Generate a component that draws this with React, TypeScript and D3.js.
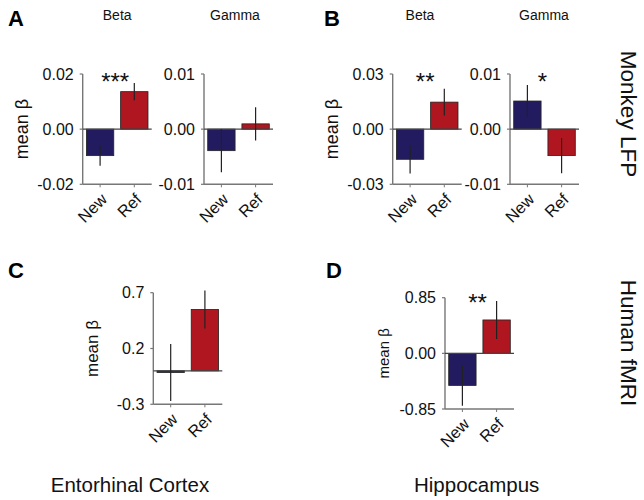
import React from 'react';
import * as d3 from 'd3';

// conditions on the x axis
const categories = ['New', 'Ref'];

// A: monkey LFP, entorhinal (beta / gamma)
const betaA = [-0.0096, 0.0136];
const betaAErr = [0.0037, 0.0031];
const gammaA = [-0.0039, 0.00096];
const gammaAErr = [0.0039, 0.003];

// B: monkey LFP, hippocampus (beta / gamma)
const betaB = [-0.0164, 0.0147];
const betaBErr = [0.0077, 0.0073];
const gammaB = [0.0051, -0.0048];
const gammaBErr = [0.0029, 0.0032];

// C / D: human fMRI
const entorhinal = [-0.015, 0.55];
const entorhinalErr = [0.255, 0.17];
const hippocampus = [-0.49, 0.51];
const hippocampusErr = [0.31, 0.29];

// y ticks and their labels
const ticksBetaA = [-0.02, 0, 0.02];
const labelsBetaA = ['-0.02', '0.00', '0.02'];
const ticksGamma = [-0.01, 0, 0.01];
const labelsGamma = ['-0.01', '0.00', '0.01'];
const ticksBetaB = [-0.03, 0, 0.03];
const labelsBetaB = ['-0.03', '0.00', '0.03'];
const ticksC = [-0.3, 0.2, 0.7];
const labelsC = ['-0.3', '0.2', '0.7'];
const ticksD = [-0.85, 0, 0.85];
const labelsD = ['-0.85', '0.00', '0.85'];

const FONT = 'Liberation Sans, Arial, Helvetica, sans-serif';
const NEW_COLOR = '#221b5f';
const REF_COLOR = '#b0161f';
const PANEL_W = 69;

type PanelProps = {
  x0: number; // y軸の位置
  y0: number; // 上端
  h: number;
  ticks: number[];
  tickLabels: string[];
  values: number[];
  errors: number[];
  stars?: string;
  starY?: number;
  title?: string;
  titleX?: number;
  yLabel?: boolean;
  yLabelSize?: number;
};

function BarPanel(p: PanelProps) {
  const domain = [p.ticks[0], p.ticks[p.ticks.length - 1]];
  const y = d3.scaleLinear().domain(domain).range([p.y0 + p.h, p.y0]);
  const x = d3.scaleBand<string>()
    .domain(categories)
    .range([p.x0 + 2, p.x0 + PANEL_W - 2])
    .paddingInner(0.2)
    .paddingOuter(0.05);
  const yBot = p.y0 + p.h;
  const mid = p.x0 + PANEL_W / 2;

  return (
    <g fontFamily={FONT}>
      {p.title && (
        <text x={p.titleX ?? mid} y={20} textAnchor="middle" fontSize={14} fill="#111">{p.title}</text>
      )}
      {p.yLabel && (
        <text
          transform={`translate(${p.x0 - 61},${p.y0 + p.h / 2}) rotate(-90)`}
          textAnchor="middle" dy="0.35em" fontSize={p.yLabelSize ?? 18} fill="#111"
        >mean β</text>
      )}
      {/* bars */}
      {categories.map((c, i) => {
        const v = p.values[i];
        return (
          <rect key={c}
            x={x(c)} width={x.bandwidth()}
            y={y(Math.max(0, v))} height={Math.abs(y(v) - y(0))}
            fill={i === 0 ? NEW_COLOR : REF_COLOR} stroke="#222" strokeWidth={0.8} />
        );
      })}
      {/* axes */}
      <line x1={p.x0} x2={p.x0} y1={p.y0} y2={yBot} stroke="#777" strokeWidth={1.4} />
      <line x1={p.x0} x2={p.x0 + PANEL_W} y1={yBot} y2={yBot} stroke="#777" strokeWidth={1.4} />
      <line x1={p.x0} x2={p.x0 + PANEL_W} y1={y(0)} y2={y(0)} stroke="#444" strokeWidth={1.3} />
      {p.ticks.map((t, i) => (
        <g key={t}>
          <line x1={p.x0 - 3} x2={p.x0} y1={y(t)} y2={y(t)} stroke="#777" strokeWidth={1.2} />
          <text x={p.x0 - 9} y={y(t)} dy="0.35em" textAnchor="end" fontSize={16} fill="#111">{p.tickLabels[i]}</text>
        </g>
      ))}
      {categories.map((c) => {
        const cx = (x(c) ?? 0) + x.bandwidth() / 2;
        return (
          <g key={c}>
            <line x1={cx} x2={cx} y1={yBot} y2={yBot + 3} stroke="#777" strokeWidth={1} />
            <text transform={`translate(${cx + 4},${yBot + 12}) rotate(-45)`}
              textAnchor="end" dy="0.35em" fontSize={16.5} fill="#111">{c}</text>
          </g>
        );
      })}
      {/* error bars */}
      {categories.map((c, i) => {
        const cx = (x(c) ?? 0) + x.bandwidth() / 2;
        return (
          <line key={c} x1={cx} x2={cx}
            y1={y(p.values[i] + p.errors[i])} y2={y(p.values[i] - p.errors[i])}
            stroke="#222" strokeWidth={1.2} />
        );
      })}
      {p.stars && (
        <text x={mid - 2} y={(p.starY ?? p.y0) + 14} textAnchor="middle" fontSize={24} fill="#111">{p.stars}</text>
      )}
    </g>
  );
}

export default function App() {
  return (
    <svg width={644} height={500} style={{ position: 'absolute', left: 0, top: 0, background: '#fff' }}>
      <g fontFamily={FONT} fontWeight="bold" fontSize={22} fill="#000">
        <text x={8} y={26}>A</text>
        <text x={324} y={26}>B</text>
        <text x={8} y={278}>C</text>
        <text x={326} y={278}>D</text>
      </g>

      <BarPanel x0={82.7} y0={74} h={110.3} ticks={ticksBetaA} tickLabels={labelsBetaA}
        values={betaA} errors={betaAErr} stars="***" starY={76} title="Beta" yLabel />
      <BarPanel x0={204} y0={74} h={110.3} ticks={ticksGamma} tickLabels={labelsGamma}
        values={gammaA} errors={gammaAErr} title="Gamma" titleX={235} />
      <BarPanel x0={392.7} y0={74} h={110.3} ticks={ticksBetaB} tickLabels={labelsBetaB}
        values={betaB} errors={betaBErr} stars="**" starY={76} title="Beta" titleX={420} yLabel />
      <BarPanel x0={510} y0={74} h={110.3} ticks={ticksGamma} tickLabels={labelsGamma}
        values={gammaB} errors={gammaBErr} stars="*" starY={76} title="Gamma" titleX={544} />

      <BarPanel x0={153.3} y0={292.7} h={111.6} ticks={ticksC} tickLabels={labelsC}
        values={entorhinal} errors={entorhinalErr} yLabel yLabelSize={17} />
      <BarPanel x0={445} y0={297.7} h={111.3} ticks={ticksD} tickLabels={labelsD}
        values={hippocampus} errors={hippocampusErr} stars="**" starY={296.7} yLabel yLabelSize={15} />

      <g fontFamily={FONT} fill="#111" fontSize={22.5}>
        <text transform="translate(621,114) rotate(90)" textAnchor="middle">Monkey LFP</text>
        <text transform="translate(621,343) rotate(90)" textAnchor="middle">Human fMRI</text>
        <text x={130} y={492} textAnchor="middle" fontSize={20.5}>Entorhinal Cortex</text>
        <text x={476.7} y={492} textAnchor="middle" fontSize={20.5}>Hippocampus</text>
      </g>
    </svg>
  );
}
